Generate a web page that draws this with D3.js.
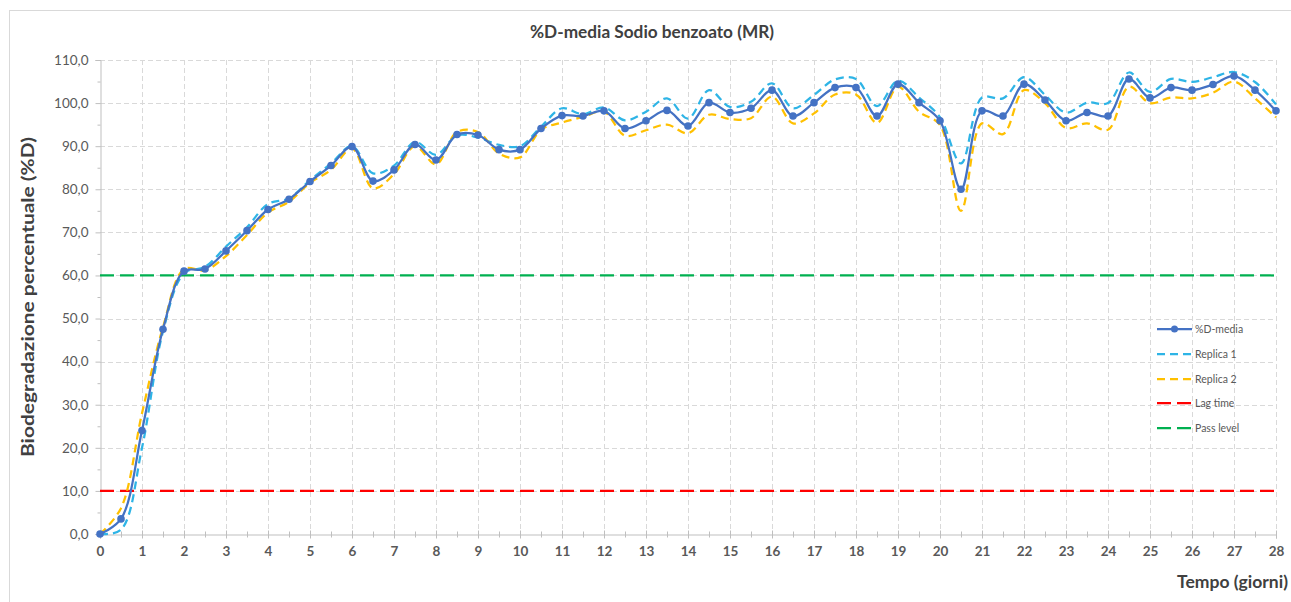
<!DOCTYPE html>
<html><head><meta charset="utf-8">
<script src="https://cdn.jsdelivr.net/npm/d3@7"></script>
<style>body{margin:0;background:#fff;} svg{display:block;}</style>
</head><body>
<svg id="c" width="1291" height="602"></svg>
<script>
const days = [0,0.5,1,1.5,2,2.5,3,3.5,4,4.5,5,5.5,6,6.5,7,7.5,8,8.5,9,9.5,10,10.5,11,11.5,12,12.5,13,13.5,14,14.5,15,15.5,16,16.5,17,17.5,18,18.5,19,19.5,20,20.5,21,21.5,22,22.5,23,23.5,24,24.5,25,25.5,26,26.5,27,27.5,28];
const media = [0,3.5,24,47.5,61,61.5,65.7,70.4,75.3,77.7,81.8,85.5,89.9,81.9,84.5,90.4,86.8,92.7,92.6,89.2,89.2,94.1,97.1,97,98.2,94.1,95.9,98.3,94.7,100.1,97.8,98.8,103,97,100.1,103.6,103.6,97,104.4,100.1,95.9,80,98.2,97,104.4,100.7,95.9,97.8,97,105.6,101.2,103.6,103,104.3,106.3,103,98.2];
const replica1 = [0,1,20,47,60.5,62,66.7,71.2,76.6,77.9,82.1,86,90,83.7,85.5,91,88,92.5,92,90.3,90,94.5,98.8,97.4,99,96,98,101.1,96.4,103,99.1,100.3,104.6,98.8,101.9,105.5,105.6,99.3,105.2,101.3,96.7,86,101.3,101.1,106,101.9,97.8,100.1,100,107.1,102.6,105.6,104.9,106,107.2,104.9,99.7];
const replica2 = [0,6,28,48,61.5,61.2,64.5,69.4,74.6,77.1,81.5,84.5,89.5,80.2,83.5,90,85.8,93.3,93.3,88.3,87.4,93.8,95.5,96.8,98,92.4,93.7,95,93,97.3,96.3,96.5,101.5,95.3,97.6,102,102,95.4,103.8,98,94.9,75,95.3,92.8,103,100,94.2,95.3,93.8,103.8,100,101.3,101.1,102.4,105,101.1,96.7];
const lagTime = 10;
const passLevel = 60;
const yTicks = [0,10,20,30,40,50,60,70,80,90,100,110];
const xTicks = d3.range(0,29);
const legendLabels = ["%D-media","Replica 1","Replica 2","Lag time","Pass level"];
const title = "%D-media Sodio benzoato (MR)";
const xTitle = "Tempo (giorni)";
const yTitle = "Biodegradazione percentuale (%D)";

const FONT = "Lato, 'Open Sans', sans-serif";
const svg = d3.select("#c");
const L = 100, R = 1276, T = 60, B = 534;
const x = d3.scaleLinear().domain([0,28]).range([L,R]);
const y = d3.scaleLinear().domain([0,110]).range([B,T]);

// outer border
svg.append("rect").attr("x",9.5).attr("y",10.5).attr("width",1290).attr("height",600)
  .attr("fill","none").attr("stroke","#d9d9d9");

// grid
const g = svg.append("g");
g.selectAll(".hg").data(yTicks.slice(1)).join("line")
  .attr("x1",L).attr("x2",R).attr("y1",d=>Math.round(y(d))+0.5).attr("y2",d=>Math.round(y(d))+0.5)
  .attr("stroke","#d9d9d9").attr("stroke-dasharray","5,3");
g.selectAll(".vg").data(xTicks.slice(1)).join("line")
  .attr("y1",T).attr("y2",B).attr("x1",d=>Math.round(x(d))+0.5).attr("x2",d=>Math.round(x(d))+0.5)
  .attr("stroke","#d9d9d9").attr("stroke-dasharray","5,3");

// axes
const yAxis = d3.axisLeft(y).tickValues(yTicks).tickSize(5).tickFormat(d=>d3.format(".1f")(d).replace(".",","));
const ya = svg.append("g").attr("transform",`translate(${L+0.5},0)`).call(yAxis);
ya.select(".domain").attr("stroke","#bfbfbf");
ya.selectAll(".tick line").attr("stroke","#bfbfbf");
ya.selectAll("text").attr("font-family",FONT).attr("font-size",13.5).attr("fill","#595959").attr("x",-12);
const yMinor = d3.axisLeft(y).tickValues(d3.range(5,110,10)).tickSize(3).tickFormat("");
const ym = svg.append("g").attr("transform",`translate(${L+0.5},0)`).call(yMinor);
ym.select(".domain").remove(); ym.selectAll(".tick line").attr("stroke","#bfbfbf");

const xAxis = d3.axisBottom(x).tickValues(xTicks).tickSize(4).tickFormat(d3.format("d"));
const xa = svg.append("g").attr("transform",`translate(0,${B+0.5})`).call(xAxis);
xa.select(".domain").attr("stroke","#bfbfbf");
xa.selectAll(".tick line").attr("stroke","#bfbfbf").attr("y1",-4);
xa.selectAll("text").attr("font-family",FONT).attr("font-size",13.5).attr("font-weight","bold").attr("fill","#595959").attr("y",12);
const xMinor = d3.axisBottom(x).tickValues(d3.range(0.5,28,1)).tickSize(3).tickFormat("");
const xm = svg.append("g").attr("transform",`translate(0,${B+0.5})`).call(xMinor);
xm.select(".domain").remove(); xm.selectAll(".tick line").attr("stroke","#bfbfbf").attr("y1",-3);

// reference lines
svg.append("line").attr("x1",x(0)).attr("x2",x(28)).attr("y1",y(passLevel)).attr("y2",y(passLevel))
  .attr("stroke","#00B050").attr("stroke-width",2.25).attr("stroke-dasharray","14,6");
svg.append("line").attr("x1",x(0)).attr("x2",x(28)).attr("y1",y(lagTime)).attr("y2",y(lagTime))
  .attr("stroke","#FF0000").attr("stroke-width",2.25).attr("stroke-dasharray","14,6");

// series
const line = vals => d3.line().x((d,i)=>x(days[i])).y(d=>y(d)).curve(d3.curveCatmullRom.alpha(0.5))(vals);
svg.append("path").attr("d",line(replica1)).attr("fill","none").attr("stroke","#2EB4E6").attr("stroke-width",2.25).attr("stroke-dasharray","8,5");
svg.append("path").attr("d",line(replica2)).attr("fill","none").attr("stroke","#FFC000").attr("stroke-width",2.25).attr("stroke-dasharray","8,5");
svg.append("path").attr("d",line(media)).attr("fill","none").attr("stroke","#4472C4").attr("stroke-width",2.25);
svg.append("g").selectAll("circle").data(media).join("circle")
  .attr("cx",(d,i)=>x(days[i])).attr("cy",d=>y(d)).attr("r",3.8).attr("fill","#4472C4");

// titles
svg.append("text").attr("x",652).attr("y",38).attr("text-anchor","middle").attr("font-family",FONT)
  .attr("font-size",16.5).attr("font-weight","bold").attr("fill","#404040")
  .attr("textLength",244).attr("lengthAdjust","spacingAndGlyphs").text(title);
svg.append("text").attr("x",1288).attr("y",588).attr("text-anchor","end").attr("font-family",FONT)
  .attr("font-size",16.5).attr("font-weight","bold").attr("fill","#404040")
  .attr("textLength",111).attr("lengthAdjust","spacingAndGlyphs").text(xTitle);
svg.append("text").attr("transform","translate(34,297) rotate(-90)").attr("text-anchor","middle").attr("font-family",FONT)
  .attr("font-size",16.5).attr("font-weight","bold").attr("fill","#404040")
  .attr("textLength",320).attr("lengthAdjust","spacingAndGlyphs").text(yTitle);

// legend
const lg = svg.append("g");
const lstyles = [
  {c:"#4472C4",dash:null,marker:true},
  {c:"#2EB4E6",dash:"8,5"},
  {c:"#FFC000",dash:"8,5"},
  {c:"#FF0000",dash:"14,6"},
  {c:"#00B050",dash:"14,6"}];
const ly = [329,354,379,403,428];
legendLabels.forEach((lab,i)=>{
  const s = lstyles[i];
  lg.append("line").attr("x1",1157).attr("x2",1192).attr("y1",ly[i]).attr("y2",ly[i])
    .attr("stroke",s.c).attr("stroke-width",2.25).attr("stroke-dasharray",s.dash);
  if(s.marker) lg.append("circle").attr("cx",1174.5).attr("cy",ly[i]).attr("r",3.5).attr("fill",s.c);
  lg.append("text").attr("x",1195).attr("y",ly[i]+3.5).attr("font-family",FONT).attr("font-size",10.5)
    .attr("fill","#595959").text(lab);
});
</script>
</body></html>
